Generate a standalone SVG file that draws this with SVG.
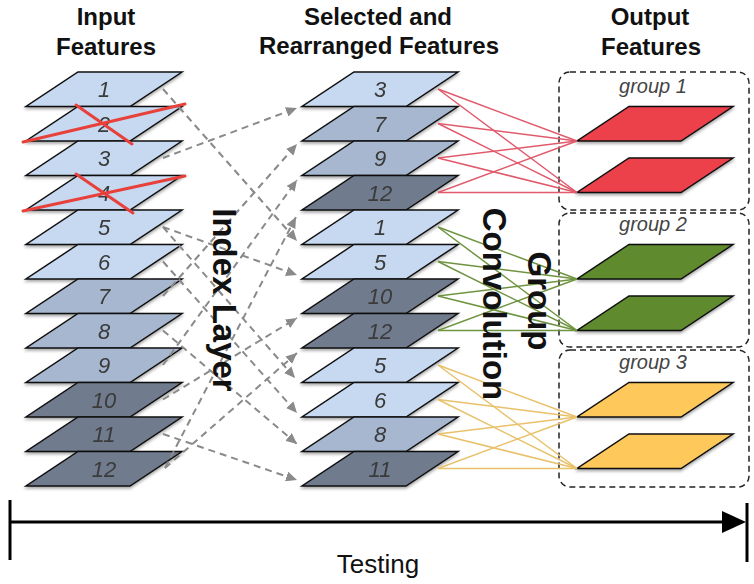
<svg xmlns="http://www.w3.org/2000/svg" xmlns:xlink="http://www.w3.org/1999/xlink" width="754" height="584" viewBox="0 0 754 584">
<defs>
<style>
.hdr{font-family:"Liberation Sans",Arial,sans-serif;font-weight:bold;font-size:24px;fill:#111;text-anchor:middle}
.big{font-family:"Liberation Sans",Arial,sans-serif;font-weight:bold;font-size:33px;fill:#111;text-anchor:middle}
.num{font-family:"Liberation Sans",Arial,sans-serif;font-style:italic;font-size:22px;fill:#3a3a3a;text-anchor:middle}
.grp{font-family:"Liberation Sans",Arial,sans-serif;font-style:italic;font-size:20px;fill:#444;text-anchor:middle}
.lt{fill:#c6d9f1}
.md{fill:#a6b7cf}
.dk{fill:#6f7b8d}
.rd{fill:#ec3f4b}
.gn{fill:#5e8a2d}
.yl{fill:#fec85a}
.dash{stroke:#8a8a8a;stroke-width:2;stroke-dasharray:7 5;fill:none;marker-end:url(#ah)}
.r{stroke:#e05a6c;stroke-width:1.5}
.g{stroke:#6f9440;stroke-width:1.5}
.y{stroke:#e8c16a;stroke-width:1.5}
.box{fill:none;stroke:#222;stroke-width:1.5;stroke-dasharray:6 4}
.x{stroke:#e8403a;stroke-width:3;stroke-linecap:round}
</style>
<polygon id="plane" points="52,0 156,0 104,34.5 0,34.5" stroke="#111" stroke-width="1.5" stroke-linejoin="miter"/>
<filter id="sh" x="-10%" y="-10%" width="120%" height="140%">
<feDropShadow dx="0" dy="2" stdDeviation="1.5" flood-color="#000" flood-opacity="0.35"/>
</filter>
<marker id="ah" markerUnits="userSpaceOnUse" markerWidth="12" markerHeight="10" refX="11" refY="5" orient="auto">
<path d="M0,0 L11,5 L0,10 z" fill="#8a8a8a"/>
</marker>
</defs>
<rect width="754" height="584" fill="#fff"/>

<g id="headers">
<text class="hdr" x="106" y="25">Input</text>
<text class="hdr" x="106" y="55">Features</text>
<text class="hdr" x="378" y="25">Selected and</text>
<text class="hdr" x="379" y="54">Rearranged Features</text>
<text class="hdr" x="650" y="25">Output</text>
<text class="hdr" x="651" y="55">Features</text>
</g>

<g id="input-features" filter="url(#sh)">
<g id="in-1"><use xlink:href="#plane" x="26" y="72" class="lt"/><text class="num" x="104" y="97">1</text></g>
<g id="in-2"><use xlink:href="#plane" x="26" y="106.5" class="lt"/><text class="num" x="104" y="131.5">2</text></g>
<g id="in-3"><use xlink:href="#plane" x="26" y="141" class="lt"/><text class="num" x="104" y="166">3</text></g>
<g id="in-4"><use xlink:href="#plane" x="26" y="175.5" class="lt"/><text class="num" x="104" y="200.5">4</text></g>
<g id="in-5"><use xlink:href="#plane" x="26" y="210" class="lt"/><text class="num" x="104" y="235">5</text></g>
<g id="in-6"><use xlink:href="#plane" x="26" y="244.5" class="lt"/><text class="num" x="104" y="269.5">6</text></g>
<g id="in-7"><use xlink:href="#plane" x="26" y="279" class="md"/><text class="num" x="104" y="304">7</text></g>
<g id="in-8"><use xlink:href="#plane" x="26" y="313.5" class="md"/><text class="num" x="104" y="338.5">8</text></g>
<g id="in-9"><use xlink:href="#plane" x="26" y="348" class="md"/><text class="num" x="104" y="373">9</text></g>
<g id="in-10"><use xlink:href="#plane" x="26" y="382.5" class="dk"/><text class="num" x="104" y="407.5">10</text></g>
<g id="in-11"><use xlink:href="#plane" x="26" y="417" class="dk"/><text class="num" x="104" y="442">11</text></g>
<g id="in-12"><use xlink:href="#plane" x="26" y="451.5" class="dk"/><text class="num" x="104" y="476.5">12</text></g>
</g>

<g id="removed-marks">
<line class="x" x1="76" y1="105" x2="132" y2="144"/>
<line class="x" x1="23" y1="142" x2="185" y2="104"/>
<line class="x" x1="76" y1="174" x2="133" y2="213"/>
<line class="x" x1="23" y1="211" x2="185" y2="176"/>
</g>

<g id="selected-features" filter="url(#sh)">
<g id="mid-1"><use xlink:href="#plane" x="302" y="72" class="lt"/><text class="num" x="380" y="97">3</text></g>
<g id="mid-2"><use xlink:href="#plane" x="302" y="106.5" class="md"/><text class="num" x="380" y="131.5">7</text></g>
<g id="mid-3"><use xlink:href="#plane" x="302" y="141" class="md"/><text class="num" x="380" y="166">9</text></g>
<g id="mid-4"><use xlink:href="#plane" x="302" y="175.5" class="dk"/><text class="num" x="380" y="200.5">12</text></g>
<g id="mid-5"><use xlink:href="#plane" x="302" y="210" class="lt"/><text class="num" x="380" y="235">1</text></g>
<g id="mid-6"><use xlink:href="#plane" x="302" y="244.5" class="lt"/><text class="num" x="380" y="269.5">5</text></g>
<g id="mid-7"><use xlink:href="#plane" x="302" y="279" class="dk"/><text class="num" x="380" y="304">10</text></g>
<g id="mid-8"><use xlink:href="#plane" x="302" y="313.5" class="dk"/><text class="num" x="380" y="338.5">12</text></g>
<g id="mid-9"><use xlink:href="#plane" x="302" y="348" class="lt"/><text class="num" x="380" y="373">5</text></g>
<g id="mid-10"><use xlink:href="#plane" x="302" y="382.5" class="lt"/><text class="num" x="380" y="407.5">6</text></g>
<g id="mid-11"><use xlink:href="#plane" x="302" y="417" class="md"/><text class="num" x="380" y="442">8</text></g>
<g id="mid-12"><use xlink:href="#plane" x="302" y="451.5" class="dk"/><text class="num" x="380" y="476.5">11</text></g>
</g>

<g id="output-groups">
<g id="group-1">
<rect class="box" x="559" y="72" width="190" height="138" rx="11"/>
<text class="grp" x="653" y="93">group 1</text>
<g filter="url(#sh)"><use xlink:href="#plane" x="577" y="106.5" class="rd"/><use xlink:href="#plane" x="577" y="158" class="rd"/></g>
</g>
<g id="group-2">
<rect class="box" x="559" y="213" width="190" height="134" rx="11"/>
<text class="grp" x="653" y="231">group 2</text>
<g filter="url(#sh)"><use xlink:href="#plane" x="577" y="244.5" class="gn"/><use xlink:href="#plane" x="577" y="296" class="gn"/></g>
</g>
<g id="group-3">
<rect class="box" x="559" y="350" width="190" height="137" rx="11"/>
<text class="grp" x="653" y="369">group 3</text>
<g filter="url(#sh)"><use xlink:href="#plane" x="577" y="382.5" class="yl"/><use xlink:href="#plane" x="577" y="434" class="yl"/></g>
</g>
</g>

<g id="connectors">
<line class="dash" x1="163" y1="158" x2="297" y2="108"/>
<line class="dash" x1="163" y1="296" x2="297" y2="144"/>
<line class="dash" x1="163" y1="365" x2="297" y2="180"/>
<line class="dash" x1="165" y1="468" x2="296" y2="217"/>
<line class="dash" x1="163" y1="89" x2="297" y2="241"/>
<line class="dash" x1="163" y1="227" x2="297" y2="275"/>
<line class="dash" x1="163" y1="399.5" x2="297" y2="318"/>
<line class="dash" x1="165" y1="468" x2="297" y2="353"/>
<line class="dash" x1="163" y1="227" x2="295" y2="378"/>
<line class="dash" x1="163" y1="261.5" x2="297" y2="413"/>
<line class="dash" x1="163" y1="330.5" x2="297" y2="444"/>
<line class="dash" x1="163" y1="434" x2="297" y2="480"/>

<g class="r">
<line x1="438" y1="89" x2="577" y2="141"/><line x1="438" y1="89" x2="577" y2="192.5"/>
<line x1="438" y1="123.5" x2="577" y2="141"/><line x1="438" y1="123.5" x2="577" y2="192.5"/>
<line x1="438" y1="158" x2="577" y2="141"/><line x1="438" y1="158" x2="577" y2="192.5"/>
<line x1="438" y1="192.5" x2="577" y2="141"/><line x1="438" y1="192.5" x2="577" y2="192.5"/>
</g>
<g class="g">
<line x1="438" y1="227" x2="577" y2="279"/><line x1="438" y1="227" x2="577" y2="330.5"/>
<line x1="438" y1="261.5" x2="577" y2="279"/><line x1="438" y1="261.5" x2="577" y2="330.5"/>
<line x1="438" y1="296" x2="577" y2="279"/><line x1="438" y1="296" x2="577" y2="330.5"/>
<line x1="438" y1="330.5" x2="577" y2="279"/><line x1="438" y1="330.5" x2="577" y2="330.5"/>
</g>
<g class="y">
<line x1="438" y1="365" x2="577" y2="417"/><line x1="438" y1="365" x2="577" y2="468.5"/>
<line x1="438" y1="399.5" x2="577" y2="417"/><line x1="438" y1="399.5" x2="577" y2="468.5"/>
<line x1="438" y1="434" x2="577" y2="417"/><line x1="438" y1="434" x2="577" y2="468.5"/>
<line x1="438" y1="468.5" x2="577" y2="417"/><line x1="438" y1="468.5" x2="577" y2="468.5"/>
</g>
</g>

<g id="labels">
<text class="big" font-size="34" transform="translate(213,300) rotate(90)">Index Layer</text>
<text class="big" transform="translate(528,301) rotate(90)">Group</text>
<text class="big" transform="translate(483,304) rotate(90)">Convolution</text>
</g>

<g id="timeline">
<line x1="10" y1="522" x2="726" y2="522" stroke="#000" stroke-width="3"/>
<polygon points="722,511 746,522 722,533" fill="#000"/>
<line x1="10" y1="500" x2="10" y2="560" stroke="#000" stroke-width="3"/>
<line x1="747" y1="503" x2="747" y2="562" stroke="#000" stroke-width="3"/>
<text x="378" y="573" font-family="'Liberation Sans',Arial,sans-serif" font-size="26" fill="#111" text-anchor="middle">Testing</text>
</g>
</svg>
